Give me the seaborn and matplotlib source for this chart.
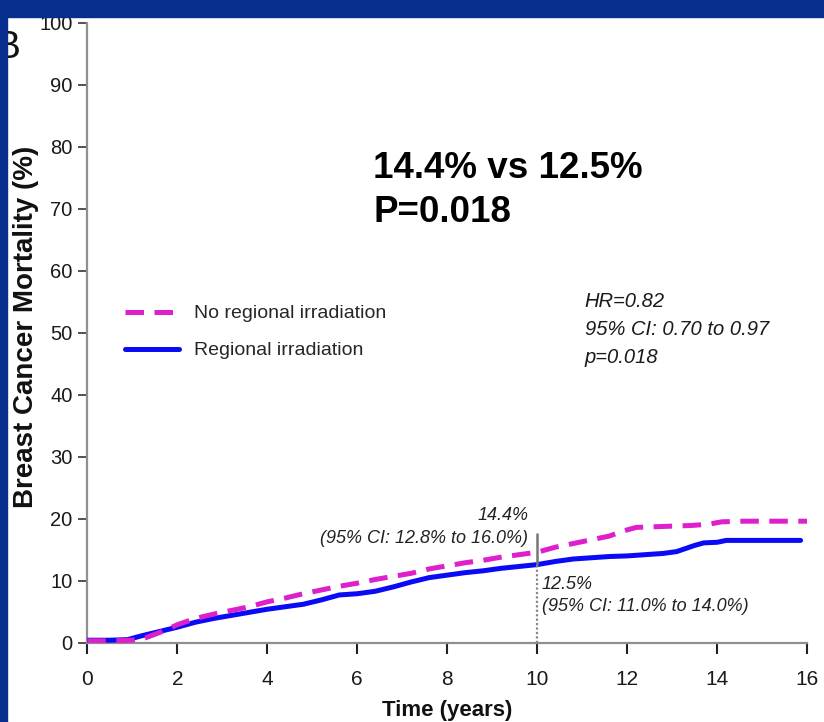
"""
Breast cancer mortality (Kaplan-Meier style) - regional vs no regional irradiation.
"""

import numpy as np
import pandas as pd
import matplotlib.pyplot as plt
from matplotlib.patches import Rectangle
import seaborn as sns

# ── Data ────────────────────────────────────────────────────────────────────
years_no_rt = [0, 0.5, 1.0, 1.3, 1.7, 2.0, 2.4, 2.8, 3.2, 3.6, 4.0, 4.4, 4.8,
               5.2, 5.6, 6.0, 6.4, 6.8, 7.2, 7.6, 8.0, 8.4, 8.8, 9.2, 9.6,
               10.0, 10.4, 10.8, 11.2, 11.6, 11.9, 12.2, 12.6, 13.0, 13.4,
               13.8, 14.1, 14.6, 15.2, 16.0]
mortality_no_rt = [0.3, 0.3, 0.4, 0.8, 1.9, 2.9, 3.9, 4.6, 5.2, 5.8, 6.6, 7.2,
                   7.9, 8.5, 9.1, 9.6, 10.2, 10.7, 11.2, 11.9, 12.4, 12.9,
                   13.3, 13.8, 14.2, 14.6, 15.4, 16.0, 16.6, 17.2, 18.0, 18.6,
                   18.7, 18.8, 18.9, 19.1, 19.5, 19.6, 19.6, 19.6]

years_rt = [0, 0.5, 0.9, 1.2, 1.6, 2.0, 2.4, 2.8, 3.2, 3.6, 4.0, 4.4, 4.8,
            5.2, 5.6, 6.0, 6.4, 6.8, 7.2, 7.6, 8.0, 8.4, 8.8, 9.2, 9.6, 10.0,
            10.4, 10.8, 11.2, 11.6, 12.0, 12.4, 12.8, 13.1, 13.3, 13.5, 13.7,
            14.0, 14.2, 15.0, 15.85]
mortality_rt = [0.4, 0.4, 0.5, 1.1, 1.8, 2.5, 3.3, 3.9, 4.4, 4.9, 5.4, 5.8,
                6.2, 6.9, 7.7, 7.9, 8.3, 9.0, 9.8, 10.5, 10.9, 11.3, 11.6,
                12.0, 12.3, 12.6, 13.1, 13.5, 13.7, 13.9, 14.0, 14.2, 14.4,
                14.7, 15.2, 15.7, 16.1, 16.2, 16.5, 16.5, 16.5]

arm_labels = ["No regional irradiation", "Regional irradiation"]
arm_colors = ["#dd1fcc", "#0a0af5"]

x_ticks = list(range(0, 17, 2))
y_ticks = list(range(0, 101, 10))

landmark_year = 10
landmark_top = 17.7
landmark_rt = 12.6

headline = "14.4% vs 12.5%\nP=0.018"
hr_text = "HR=0.82\n95% CI: 0.70 to 0.97\np=0.018"
note_no_rt = "14.4%\n(95% CI: 12.8% to 16.0%)"
note_rt = "12.5%\n(95% CI: 11.0% to 14.0%)"

W, H = 824, 722

sns.set_theme(style="ticks")
plt.rcParams["font.family"] = ["Liberation Sans", "DejaVu Sans"]

fig = plt.figure(figsize=(W / 100, H / 100), dpi=100, facecolor="white")
ax = fig.add_axes([87.3 / W, 1 - 642.7 / H, 720 / W, 620 / H])

df_no = pd.DataFrame({"time": years_no_rt, "mortality": mortality_no_rt})
df_rt = pd.DataFrame({"time": years_rt, "mortality": mortality_rt})

sns.lineplot(data=df_no, x="time", y="mortality", ax=ax, color=arm_colors[0],
             lw=3.6, ls=(0, (3.7, 2.1)), estimator=None, sort=False,
             label=arm_labels[0], zorder=4)
sns.lineplot(data=df_rt, x="time", y="mortality", ax=ax, color=arm_colors[1],
             lw=3.6, estimator=None, sort=False, label=arm_labels[1], zorder=3)

# landmark at 10 years
ax.vlines(landmark_year, landmark_rt, landmark_top, color="#777777", lw=1.8, zorder=5)
ax.vlines(landmark_year, 0, landmark_rt, color="#888888", lw=1.6, ls=(0, (1, 1)), zorder=5)

ax.set_xlim(0, 16)
ax.set_ylim(0, 100)
ax.set_xticks(x_ticks)
ax.set_yticks(y_ticks)
ax.set_xlabel("")
ax.set_ylabel("")
sns.despine(ax=ax)
for side in ["left", "bottom"]:
    ax.spines[side].set_color("#8f8f8f")
    ax.spines[side].set_linewidth(1.6)
ax.tick_params(axis="x", direction="out", length=8, width=1.5, color="#222222",
               labelsize=15, pad=12, labelcolor="#1a1a1a")
ax.tick_params(axis="y", direction="out", length=6.5, width=1.3, color="#444444",
               labelsize=14.5, pad=4, labelcolor="#1a1a1a")

# legend
ax.legend(loc="upper left", bbox_to_anchor=(0.052, 0.545), frameon=False,
          fontsize=14, handlelength=2.8, handletextpad=0.75,
          labelspacing=1.0, borderpad=0, borderaxespad=0)

# annotations
ax.text(9.8, 15.5, note_no_rt, ha="right", va="bottom", style="italic",
        fontsize=13, color="#222222", linespacing=1.4, multialignment="right")
ax.text(10.1, 10.7, note_rt, ha="left", va="top", style="italic",
        fontsize=13, color="#222222", linespacing=1.35)
ax.text(11.05, 56.5, hr_text, ha="left", va="top", style="italic",
        fontsize=14.5, color="#1a1a1a", linespacing=1.6)
ax.text(6.35, 79.3, headline, ha="left", va="top", fontweight="bold",
        fontsize=26.5, color="black", linespacing=1.35)

# axis titles
fig.text(26 / W, 1 - 327 / H, "Breast Cancer Mortality (%)", rotation=90,
         ha="center", va="center", fontweight="bold", fontsize=20,
         color="#111111")
fig.text(447 / W, 1 - 716 / H, "Time (years)", ha="center", va="baseline",
         fontweight="bold", fontsize=16, color="#111111")

# slide frame and the cut-off panel letter
fig.text(-5 / W, 1 - 58 / H, "B", ha="left", va="baseline", fontsize=28,
         color="#111111", zorder=5)
fig.add_artist(Rectangle((0, 1 - 17 / H), 1, 17 / H, transform=fig.transFigure,
                         color="#062e8c", zorder=10))
fig.add_artist(Rectangle((0, 0), 7 / W, 1, transform=fig.transFigure,
                         color="#062e8c", zorder=10))

fig.savefig("out.png", dpi=100, facecolor="white")
